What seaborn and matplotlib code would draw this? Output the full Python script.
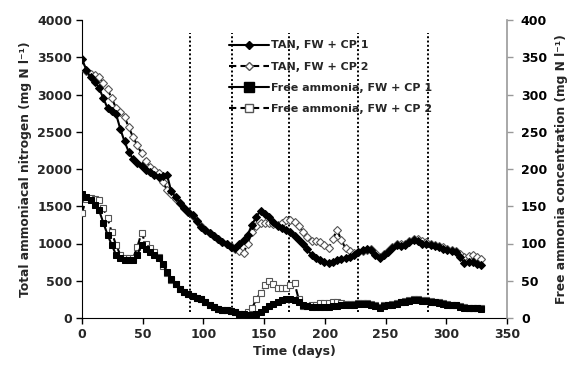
import matplotlib
matplotlib.use("Agg")
import matplotlib.pyplot as plt
import seaborn as sns
import pandas as pd
from matplotlib.lines import Line2D

days = [0, 3.5, 7, 10.5, 14, 17.5, 21, 24.5, 28, 31.5,
        35, 38.5, 42, 45.5, 49, 52.5, 56, 59.5, 63, 66.5,
        70, 73.5, 77, 80.5, 84, 87.5, 91, 94.5, 98, 101.5,
        105, 108.5, 112, 115.5, 119, 122.5, 126, 129.5, 133, 136.5,
        140, 143.5, 147, 150.5, 154, 157.5, 161, 164.5, 168, 171.5,
        175, 178.5, 182, 185.5, 189, 192.5, 196, 199.5, 203, 206.5,
        210, 213.5, 217, 220.5, 224, 227.5, 231, 234.5, 238, 241.5,
        245, 248.5, 252, 255.5, 259, 262.5, 266, 269.5, 273, 276.5,
        280, 283.5, 287, 290.5, 294, 297.5, 301, 304.5, 308, 311.5,
        315, 318.5, 322, 325.5, 329]

tan_cp1 = [3480, 3330, 3230, 3170, 3090, 2950, 2820, 2780, 2740, 2540,
           2370, 2230, 2130, 2080, 2040, 1990, 1960, 1920, 1890, 1900,
           1920, 1700, 1620, 1550, 1480, 1420, 1380, 1300, 1220, 1180,
           1140, 1100, 1060, 1025, 990, 950, 945, 990, 1050, 1120,
           1250, 1360, 1440, 1400, 1350, 1290, 1240, 1210, 1180, 1150,
           1100, 1050, 1000, 920, 850, 810, 780, 750, 735, 750,
           775, 790, 800, 820, 845, 880, 910, 920, 910, 850,
           800, 850, 890, 940, 980, 970, 980, 1020, 1050, 1030,
           1000, 990, 980, 970, 955, 930, 910, 900, 890, 820,
           740, 745, 755, 730, 710]

tan_cp2 = [3370, 3310, 3280, 3260, 3240, 3150, 3070, 2950, 2820, 2760,
           2700, 2560, 2430, 2320, 2210, 2110, 2030, 1990, 1950, 1830,
           1720, 1660, 1600, 1540, 1480, 1420, 1370, 1300, 1230, 1180,
           1140, 1100, 1060, 1025, 990, 960, 930, 900, 875, 1000,
           1160, 1230, 1270, 1280, 1280, 1265, 1250, 1280, 1310, 1320,
           1290, 1230, 1160, 1090, 1040, 1030, 1020, 980, 935, 1060,
           1180, 1050, 935, 900, 870, 885, 900, 915, 920, 870,
           820, 860, 900, 950, 990, 995, 1000, 1030, 1060, 1060,
           1040, 1020, 1000, 985, 970, 950, 930, 915, 900, 860,
           820, 835, 845, 815, 790]

fa_cp1 = [166, 162, 158, 152, 145, 128, 112, 98, 85, 80,
          78, 78, 78, 85, 98, 93, 89, 85, 80, 72,
          62, 52, 45, 39, 35, 32, 29, 27, 25, 21,
          18, 15, 12, 11, 11, 9, 8, 6, 5, 4,
          4, 6, 8, 12, 16, 19, 22, 24, 25, 25,
          24, 21, 18, 16, 15, 15, 15, 15, 15, 16,
          16, 17, 17, 18, 18, 19, 19, 19, 18, 16,
          14, 16, 17, 18, 19, 21, 22, 23, 24, 24,
          23, 23, 22, 21, 20, 19, 18, 18, 17, 15,
          13, 13, 13, 13, 12]

fa_cp2 = [141, 160, 161, 160, 158, 147, 134, 115, 98, 85,
          80, 80, 80, 95, 114, 100, 94, 88, 82, 70,
          60, 51, 45, 39, 35, 32, 29, 27, 25, 21,
          18, 15, 12, 11, 11, 9, 8, 6, 5, 8,
          13, 25, 34, 44, 49, 45, 40, 40, 40, 44,
          47, 25, 16, 16, 17, 18, 20, 20, 20, 21,
          21, 20, 19, 19, 19, 20, 20, 20, 19, 17,
          15, 17, 18, 19, 20, 22, 23, 24, 25, 25,
          24, 24, 23, 22, 21, 20, 19, 18, 17, 16,
          15, 14, 14, 14, 13]

phase_days = [89, 123.5, 170.5, 227, 285]

labels = ["TAN, FW + CP 1", "TAN, FW + CP 2",
          "Free ammonia, FW + CP 1", "Free ammonia, FW + CP 2"]

sns.set_style("ticks")
plt.rcParams['font.family'] = ['DejaVu Sans']
plt.rcParams['font.weight'] = 'bold'

df = pd.DataFrame({"day": days, "tan1": tan_cp1, "tan2": tan_cp2,
                   "fa1": fa_cp1, "fa2": fa_cp2})

fig = plt.figure(figsize=(5.73, 3.65), dpi=100)
ax = fig.add_axes([82/573, 1-318/365, 425/573, 298/365])
ax2 = ax.twinx()

for d in phase_days:
    ax.plot([d, d], [80, 3830], color='black', ls=(0, (1, 1.2)), lw=1.4, zorder=1)

DASH = (0, (3.5, 2))
sns.lineplot(data=df, x="day", y="tan2", ax=ax, color='black', lw=1.5,
             ls=DASH, marker='D', markersize=4, markerfacecolor='white',
             markeredgecolor='#555555', markeredgewidth=0.8, zorder=3)
sns.lineplot(data=df, x="day", y="tan1", ax=ax, color='black', lw=1.5,
             marker='D', markersize=4, markerfacecolor='black',
             markeredgecolor='black', zorder=4)
sns.lineplot(data=df, x="day", y="fa2", ax=ax2, color='black', lw=1.5,
             ls=DASH, marker='s', markersize=5, markerfacecolor='white',
             markeredgecolor='#555555', markeredgewidth=0.8, zorder=3)
sns.lineplot(data=df, x="day", y="fa1", ax=ax2, color='black', lw=1.5,
             marker='s', markersize=5, markerfacecolor='black',
             markeredgecolor='black', zorder=4)

ax.set_xlim(0, 350)
ax.set_ylim(0, 4000)
ax2.set_ylim(0, 400)
ax.set_xticks(range(0, 351, 50))
ax.set_yticks(range(0, 4001, 500))
ax2.set_yticks(range(0, 401, 50))

for a in (ax, ax2):
    a.spines['top'].set_visible(False)
ax.spines['right'].set_visible(False)
ax.spines['left'].set_color('black')
ax.spines['bottom'].set_color('black')
ax2.spines['left'].set_visible(False)
ax2.spines['bottom'].set_visible(False)
ax2.spines['right'].set_color('#999999')
ax2.spines['right'].set_linewidth(1.2)

ax.tick_params(axis='both', labelsize=9, length=4, width=1, color='black',
               direction='out', pad=3)
ax2.tick_params(axis='y', labelsize=9, length=4, width=1, colors='#999999',
                labelcolor='black', direction='out', pad=6)
for lab in ax.get_xticklabels() + ax.get_yticklabels() + ax2.get_yticklabels():
    lab.set_fontweight('bold')

ax.set_xlabel("Time (days)", fontsize=9, fontweight='bold', labelpad=3)
ax.set_ylabel("Total ammoniacal nitrogen (mg N l\u207b\u00b9)", fontsize=8.8,
              fontweight='bold', labelpad=4)
ax2.set_ylabel("Free ammonia concentration (mg N l\u207b\u00b9)", fontsize=8.8,
               fontweight='bold', labelpad=6)

handles = [
    Line2D([], [], color='black', lw=1.5, marker='D', markersize=4.5,
           markerfacecolor='black'),
    Line2D([], [], color='black', lw=1.5, ls=DASH, marker='D', markersize=4.5,
           markerfacecolor='white', markeredgecolor='#555555'),
    Line2D([], [], color='black', lw=1.5, marker='s', markersize=6.5,
           markerfacecolor='black'),
    Line2D([], [], color='black', lw=1.5, ls=DASH, marker='s', markersize=6,
           markerfacecolor='white', markeredgecolor='#555555'),
]
leg = ax2.legend(handles, labels, loc='upper left', bbox_to_anchor=(0.322, 0.965),
                 frameon=False, handlelength=3.6, handletextpad=0.2,
                 labelspacing=1.0, prop={'size': 8, 'weight': 'bold'})

fig.savefig("out.png", dpi=100)
